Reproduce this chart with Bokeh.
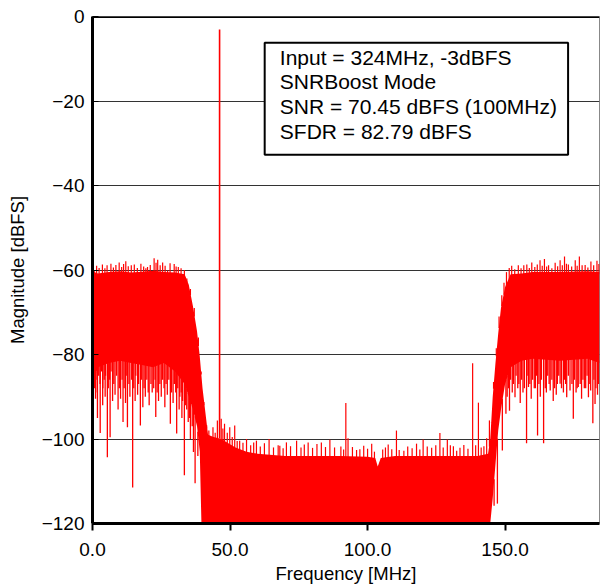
import numpy as np
from bokeh.plotting import figure
from bokeh.models import FixedTicker, Span, BoxAnnotation, Label, Range1d
from bokeh.embed import file_html
from bokeh.resources import INLINE

# ---------------- data ----------------
x_ticks = [0, 50, 100, 150]
x_tick_labels = ["0.0", "50.0", "100.0", "150.0"]
y_ticks = [-120, -100, -80, -60, -40, -20, 0]
y_tick_labels = ["\u2212120", "\u2212100", "\u221280", "\u221260", "\u221240", "\u221220", "0"]

# dense core of the spectrum: frequency breakpoints, top and bottom of the solid red band
band_f = [0.0, 0.6, 2.0, 6.0, 10.0, 14.0, 18.0, 22.0, 26.0, 30.0, 33.5, 35.0, 36.5, 38.0, 39.0,
          39.6, 40.0, 42.0, 44.0, 47.0, 48.0, 52.0, 56.0, 60.0, 70.0, 80.0, 90.0, 100.0, 102.8,
          103.7, 104.8, 110.0, 120.0, 130.0, 140.0, 143.8, 144.6, 145.5, 146.5, 147.5, 148.5,
          150.0, 152.0, 156.0, 160.0, 170.0, 180.0, 184.32]
band_top = [-61.0, -60.5, -60.8, -60.5, -60.3, -60.6, -60.4, -60.2, -60.5, -60.6, -61.0, -63.5,
            -68.5, -74.5, -80.5, -85.0, -88.0, -99.0, -99.5, -100.0, -100.5, -102.0, -103.0,
            -103.5, -104.0, -104.0, -104.0, -104.2, -104.5, -106.5, -104.5, -104.0, -104.0,
            -104.0, -104.0, -103.5, -100.0, -90.0, -82.0, -75.0, -69.0, -64.0, -61.0, -60.8,
            -60.5, -60.5, -60.3, -60.5]
band_bot = [-88.0, -86.0, -83.0, -82.0, -81.5, -82.0, -82.5, -83.0, -82.0, -84.0, -87.0, -90.0,
            -93.0, -97.0, -103.0, -120.0, -120.0, -120.0, -120.0, -120.0, -120.0, -120.0, -120.0,
            -120.0, -120.0, -120.0, -120.0, -120.0, -120.0, -120.0, -120.0, -120.0, -120.0,
            -120.0, -120.0, -120.0, -120.0, -114.0, -106.0, -98.0, -93.0, -87.0, -83.0, -81.5,
            -81.0, -81.5, -81.0, -82.0]

# upward spurs / noise peaks (frequency MHz, level dBFS)
up_f = [0.6, 1.5, 2.4, 3.6, 4.5, 5.3, 6.7, 7.6, 8.5, 9.7, 10.6, 11.3, 12.1, 13.0, 14.1, 15.2, 16.3,
        17.6, 18.6, 19.4, 20.0, 21.0, 22.4, 23.1, 23.7, 24.6, 25.5, 26.4, 27.3, 28.2, 29.7, 30.4,
        31.2, 32.2, 33.4, 34.3, 35.6, 37.0, 38.5, 39.5, 40.5,
        41.5, 42.3, 43.0, 43.8, 44.6, 45.4, 46.8, 47.4, 48.0, 49.0, 49.9, 50.8, 51.7, 52.6, 53.5,
        54.7, 56.0, 57.5, 58.6, 59.6, 61.0, 62.5, 64.2, 65.8, 67.5, 68.1, 69.3, 70.5, 72.0, 74.2,
        75.8, 77.0, 78.4, 80.0, 81.6, 83.2, 84.7, 86.3, 88.0, 90.3, 91.3, 92.1, 92.9, 94.5, 96.0,
        97.2, 98.6, 100.0, 101.5, 102.5, 105.5, 106.5, 107.5, 108.8, 110.5, 111.5, 113.2, 114.6,
        116.2, 117.8, 119.0, 120.2, 121.7, 123.3, 124.8, 126.3, 127.5, 129.0, 130.1, 131.2, 132.4,
        133.6, 135.0, 136.5, 138.2, 139.3, 140.3, 141.3, 142.3, 143.3, 144.3,
        145.0, 145.8, 146.8, 147.8, 148.8, 149.6, 150.5, 151.5, 152.4, 153.5, 154.8, 155.8, 156.8,
        157.9, 158.8, 159.7, 160.8, 161.7, 162.7, 163.5, 164.3, 165.1, 165.8, 167.0, 168.2, 169.1,
        170.0, 170.8, 171.6, 172.3, 173.0, 174.2, 175.5, 176.2, 177.0, 178.0, 179.1, 180.1, 181.2,
        182.2, 183.4, 184.1]
up_db = [-60.1, -59.0, -59.5, -58.7, -59.6, -58.9, -58.5, -59.4, -58.8, -58.2, -59.3, -58.6, -57.9,
         -59.1, -58.9, -58.7, -59.5, -58.5, -59.2, -59.6, -59.3, -58.8, -57.2, -58.3, -57.6, -58.9,
         -58.2, -59.0, -60.1, -58.4, -58.6, -59.2, -59.3, -59.6, -60.0, -62.0, -64.5, -69.0, -76.0,
         -84.0, -92.0,
         -97.5, -98.0, -99.5, -97.2, -98.5, -95.6, -95.2, -97.5, -96.4, -98.5, -97.2, -99.5, -96.8,
         -100.5, -100.4, -100.9, -100.0, -101.5, -100.8, -100.4, -101.8, -101.0, -100.0, -102.0,
         -101.5, -101.6, -102.2, -100.8, -101.7, -100.4, -102.0, -101.3, -100.8, -102.1, -101.2,
         -100.8, -101.9, -100.2, -102.0, -101.8, -102.5, -91.5, -99.8, -101.9, -102.6, -102.4,
         -101.6, -102.3, -101.1, -103.0, -102.5, -102.0, -101.3, -102.4, -98.0, -102.6, -102.8,
         -101.8, -102.2, -101.1, -102.5, -100.1, -101.8, -102.1, -101.5, -98.6, -102.0, -100.1,
         -101.5, -101.7, -102.8, -102.1, -101.4, -102.3, -82.1, -101.5, -91.4, -102.0, -101.7,
         -99.8, -95.6,
         -96.0, -86.5, -78.5, -71.0, -66.0, -63.0, -60.5, -59.5, -59.0, -59.8, -58.9, -59.6, -58.9,
         -58.7, -59.5, -58.2, -59.3, -58.7, -57.7, -59.0, -57.4, -59.2, -58.9, -59.6, -58.3, -59.1,
         -57.7, -58.9, -56.8, -58.5, -58.7, -59.2, -57.7, -59.0, -56.8, -58.9, -58.8, -59.4, -58.0,
         -58.9, -57.8, -58.6]

# downward dips below the dense band (frequency MHz, level dBFS)
dn_f = [0.25, 0.75, 1.1, 1.25, 1.75, 1.8, 2.25, 2.75, 2.8, 3.25, 3.7, 3.75, 4.25, 4.6, 4.75, 5.4,
        5.75, 6.25, 6.4, 6.75, 7.3, 7.75, 8.2, 8.75, 9.3, 9.75, 10.2, 10.75, 11.1, 11.5, 12.0,
        12.25, 12.7, 13.25, 13.6, 14.25, 14.6, 15.0, 15.5, 15.75, 16.4, 16.75, 17.4, 17.75, 18.3,
        18.75, 19.2, 19.75, 20.25, 20.6, 21.25, 21.7, 22.25, 22.75, 23.0, 23.5, 24.0, 24.5, 25.0,
        25.5, 26.0, 26.3, 26.75, 27.2, 27.75, 28.3, 28.75, 29.3, 29.75, 30.25, 30.6, 31.0, 31.5,
        31.75, 32.25, 32.5, 32.75, 33.4, 33.75, 34.25, 34.8, 35.25, 35.6, 36.25, 36.7, 37.3, 38.3,
        146.0, 147.2, 149.0, 150.3, 150.75, 151.25, 151.6, 152.0, 152.6, 153.0, 153.6, 154.0, 154.6,
        155.0, 155.5, 156.0, 156.5, 157.0, 157.8, 158.0, 158.5, 159.0, 159.5, 160.0, 160.6, 161.0,
        161.4, 161.8, 162.3, 162.8, 163.2, 164.0, 164.6, 165.0, 165.5, 166.0, 166.4, 167.0, 167.5,
        168.0, 168.6, 169.0, 169.5, 170.0, 170.5, 171.2, 171.6, 172.0, 172.4, 173.0, 173.6, 174.3,
        174.8, 175.2, 175.8, 176.2, 176.6, 177.3, 177.8, 178.3, 178.8, 179.3, 179.8, 180.3, 180.8,
        181.1, 181.9, 182.3, 182.7, 183.0, 183.6, 184.0]
dn_db = [-90.0, -88.0, -90.5, -86.0, -89.0, -95.0, -85.0, -87.0, -98.6, -84.0, -92.0, -88.0, -86.0,
         -90.0, -85.0, -104.3, -88.0, -86.0, -99.6, -84.0, -91.0, -87.0, -89.5, -85.0, -93.0, -88.0,
         -90.5, -86.0, -96.0, -88.0, -91.5, -85.0, -97.2, -87.0, -90.0, -86.0, -111.5, -88.0, -91.0,
         -85.0, -89.5, -87.0, -96.8, -86.0, -92.5, -88.0, -90.0, -86.0, -89.0, -92.0, -87.0, -89.0,
         -88.0, -86.0, -94.8, -89.0, -91.0, -87.0, -90.0, -86.0, -88.0, -92.5, -87.0, -89.5, -86.0,
         -96.4, -89.0, -91.5, -87.0, -89.0, -98.7, -88.0, -93.0, -90.0, -89.0, -95.0, -91.0, -108.6,
         -92.0, -93.0, -96.0, -95.0, -100.0, -97.0, -103.1, -110.5, -104.0,
         -115.8, -115.3, -102.7, -94.0, -90.0, -88.0, -93.3, -86.0, -89.0, -87.0, -90.1, -85.0,
         -88.0, -87.0, -91.5, -86.0, -89.0, -88.0, -101.0, -85.0, -87.7, -87.0, -90.5, -86.0,
         -88.0, -88.0, -85.0, -99.2, -87.0, -90.0, -86.0, -101.0, -88.0, -89.0, -85.0, -87.0,
         -88.5, -86.0, -91.0, -88.0, -89.5, -87.0, -85.0, -86.9, -88.0, -89.0, -86.0, -87.0,
         -90.1, -85.0, -88.5, -87.0, -95.2, -86.0, -89.0, -88.0, -87.7, -87.0, -90.5, -86.0,
         -88.0, -88.0, -85.0, -90.1, -87.0, -88.5, -96.3, -86.0, -91.7, -88.0, -89.5, -87.0]

# the input tone
sig_f = [46.2]
sig_db = [-3.1]

info_lines = ["Input = 324MHz, -3dBFS", "SNRBoost Mode", "SNR = 70.45 dBFS (100MHz)",
              "SFDR = 82.79 dBFS"]

# ---------------- figure ----------------
FONT = "Liberation Sans"
RED = "#ff0000"

p = figure(width=601, height=586, x_range=Range1d(0, 184.32), y_range=Range1d(-120, 0),
           output_backend="svg", toolbar_location=None,
           min_border_left=92, min_border_right=2, min_border_top=16, min_border_bottom=63)

p.background_fill_color = "white"
p.border_fill_color = "white"
p.outline_line_color = "#888888"
p.outline_line_width = 1

# dense band
p.varea(x=band_f, y1=band_bot, y2=band_top, fill_color=RED, fill_alpha=1.0)

uf = np.array(up_f)
p.segment(x0=uf, y0=np.interp(uf, band_f, band_top) - 0.5, x1=uf, y1=up_db,
          line_color=RED, line_width=1.2)
df = np.array(dn_f)
p.segment(x0=df, y0=np.interp(df, band_f, band_bot) + 0.5, x1=df, y1=dn_db,
          line_color=RED, line_width=1.3)
sf = np.array(sig_f)
p.segment(x0=sf, y0=np.interp(sf, band_f, band_top), x1=sf, y1=sig_db,
          line_color=RED, line_width=1.6)

# axes
p.xaxis.ticker = FixedTicker(ticks=x_ticks)
p.xaxis.major_label_overrides = dict(zip(x_ticks, x_tick_labels))
p.yaxis.ticker = FixedTicker(ticks=y_ticks)
p.yaxis.major_label_overrides = dict(zip(y_ticks, y_tick_labels))

for ax in (p.xaxis, p.yaxis):
    ax.axis_line_color = "black"
    ax.axis_line_width = 3
    ax.major_tick_line_color = "black"
    ax.minor_tick_line_color = None
    ax.major_label_text_font = FONT
    ax.major_label_text_font_size = "19px"
    ax.major_label_text_color = "black"
    ax.axis_label_text_font = FONT
    ax.axis_label_text_font_size = "18.5px"
    ax.axis_label_text_font_style = "normal"
    ax.axis_label_text_color = "black"

p.xaxis.major_tick_in = 0
p.xaxis.major_tick_out = 7
p.xaxis.major_tick_line_width = 2
p.xaxis.major_label_standoff = 12
p.xaxis.axis_label = "Frequency [MHz]"
p.xaxis.axis_label_standoff = 4

p.yaxis.major_tick_in = 6
p.yaxis.major_tick_out = 0
p.yaxis.major_tick_line_width = 1
p.yaxis.major_label_standoff = 8
p.yaxis.axis_label = "Magnitude [dBFS]"
p.yaxis.axis_label_standoff = 11

p.xgrid.visible = False
p.ygrid.ticker = FixedTicker(ticks=[-100, -80, -60, -40, -20])
p.ygrid.grid_line_color = "#333333"
p.ygrid.grid_line_width = 1

p.add_layout(Span(location=0, dimension="width", line_color="black", line_width=3))

# annotation box
p.add_layout(BoxAnnotation(left=62.6, right=172.9, top=-6.2, bottom=-32.7,
                           fill_color="white", fill_alpha=1.0,
                           line_color="black", line_width=2, line_alpha=1.0))
line_y = [-9.7, -15.4, -21.3, -27.2]
for txt, yy in zip(info_lines, line_y):
    p.add_layout(Label(x=68.1, y=yy, text=txt, text_font=FONT, text_font_size="21px",
                       text_color="black", text_baseline="alphabetic", text_align="left"))

open("out.html", "w").write(file_html(p, INLINE))
